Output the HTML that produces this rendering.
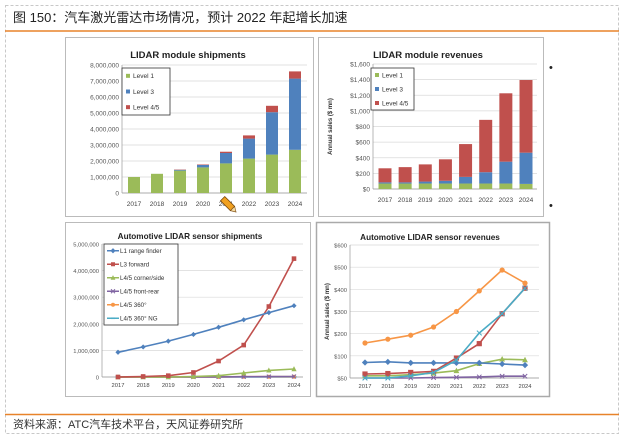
<!DOCTYPE html>
<html><head><meta charset="utf-8"><style>
html,body{margin:0;padding:0;background:#fff;}
svg{display:block;font-family:"Liberation Sans","Noto Sans CJK SC",sans-serif;}
</style></head><body>
<svg id="s" width="620" height="439" viewBox="0 0 620 439" xmlns="http://www.w3.org/2000/svg">
<rect x="5.5" y="5.5" width="613" height="428" fill="#fff" stroke="#c8c8c8" stroke-dasharray="3,2"/>
<text x="13" y="22" font-size="13" fill="#222" font-family="'Liberation Sans','Noto Sans CJK SC',sans-serif">图 150：汽车激光雷达市场情况，预计 2022 年起增长加速</text>
<line x1="5" y1="31" x2="619" y2="31" stroke="#e8832a" stroke-width="1.5"/>
<line x1="5" y1="414.5" x2="619" y2="414.5" stroke="#e8832a" stroke-width="1.5"/>
<text x="13" y="428" font-size="11" fill="#333">资料来源：ATC汽车技术平台，天风证券研究所</text>
<text x="549" y="71" font-size="11" fill="#222">•</text>
<text x="549" y="209" font-size="11" fill="#222">•</text>
<rect x="65.5" y="37.5" width="248" height="179" fill="#fff" stroke="#bbb"/>
<rect x="318.5" y="37.5" width="225" height="179" fill="#fff" stroke="#bbb"/>
<rect x="65.5" y="222.5" width="245" height="174" fill="#fff" stroke="#bbb"/>
<rect x="316.5" y="222.5" width="233" height="174" fill="#fff" stroke="#aaa" stroke-width="1.5"/>
<g id="c1"></g><g id="c2"></g><g id="c3"></g><g id="c4"></g>
<g transform="translate(229,205) rotate(-45)">
<rect x="-3" y="-9" width="6" height="14" fill="#f0a020" stroke="#7a4a10" stroke-width="0.8"/>
<polygon points="-3,5 3,5 0,10" fill="#f5d9a0" stroke="#7a4a10" stroke-width="0.6"/>
</g>
</svg>
<script>
const years = ["2017","2018","2019","2020","2021","2022","2023","2024"];
// Chart 1: module shipments (units)
const shipL1 = [1000000,1200000,1400000,1600000,1850000,2150000,2400000,2700000];
const shipL3 = [0,0,50000,150000,650000,1250000,2650000,4450000];
const shipL45 = [0,0,20000,30000,80000,200000,400000,450000];
const shipTicks = ["0","1,000,000","2,000,000","3,000,000","4,000,000","5,000,000","6,000,000","7,000,000","8,000,000"];
// Chart 2: module revenues ($mn)
const revL1 = [70,70,70,70,70,70,70,65];
const revL3 = [15,15,25,35,85,145,280,400];
const revL45 = [180,195,220,275,420,670,875,930];
const revTicks = ["$0","$200","$400","$600","$800","$1,000","$1,200","$1,400","$1,600"];
// Chart 3: sensor shipments
const sL1 = [930000,1130000,1350000,1600000,1870000,2150000,2420000,2680000];
const sL3 = [0,20000,50000,170000,600000,1200000,2650000,4450000];
const sCorner = [0,0,0,20000,50000,150000,250000,300000];
const sFront = [0,0,0,0,5000,10000,15000,20000];
const s360 = [0,0,0,0,5000,10000,10000,10000];
const s360NG = [0,0,0,0,0,5000,5000,5000];
const sTicks = ["0","1,000,000","2,000,000","3,000,000","4,000,000","5,000,000"];
// Chart 4: sensor revenues
const rL1 = [70,73,68,68,68,68,63,58];
const rL3 = [18,20,25,30,90,155,290,405];
const rCorner = [10,10,15,22,33,65,85,82];
const rFront = [0,0,0,2,3,5,8,8];
const r360 = [158,175,193,230,300,393,487,428];
const rNG = [0,0,10,25,80,203,290,405];
const rTicks = ["$50","$100","$200","$300","$400","$500","$600"];
const rTickVals = [0,100,200,300,400,500,600];

const NS="http://www.w3.org/2000/svg";
const GREEN="#9bbb59",BLUE="#4f81bd",RED="#c0504d",PURPLE="#8064a2",ORANGE="#f79646",TEAL="#4bacc6";
function mk(p,tag,at){const e=document.createElementNS(NS,tag);for(const k in at)e.setAttribute(k,at[k]);p.appendChild(e);return e;}
function txt(p,x,y,s,size,anchor,extra){const t=mk(p,"text",Object.assign({x:x,y:y,"font-size":size,"text-anchor":anchor||"start",fill:"#333"},extra||{}));t.textContent=s;return t;}

function axes(g,o){
  const ys=v=>o.y0-(v-o.vmin)/(o.vmax-o.vmin)*(o.y0-o.y1);
  const xs=i=>o.xa+(i)*(o.xb-o.xa)/(years.length-1);
  o.tickVals.forEach((v,i)=>{
    const gl=mk(g,"line",{x1:o.axL,x2:o.axR,y1:ys(v),y2:ys(v),stroke:"#d9d9d9","stroke-width":0.7});
    
    
    const t=txt(g,o.axL-3,ys(v)+2.5,o.ticks[i],o.tfs||6.5,"end",{fill:"#555"});
    
    
  });
  mk(g,"line",{x1:o.axL,x2:o.axL,y1:o.y0,y2:o.y1,stroke:"#999","stroke-width":0.7});
  mk(g,"line",{x1:o.axL,x2:o.axR,y1:o.y0,y2:o.y0,stroke:"#999","stroke-width":0.8});
  years.forEach((y,i)=>{
    const t=txt(g,xs(i),o.y0+(o.xlo||11),y,o.xfs||6.5,"middle",{fill:"#444"});
    
    
  });
  const tt=txt(g,o.tx,o.ty,o.title,o.titfs||9.5,"middle",{"font-weight":"bold",fill:"#222"});
  
  
  if(o.ytitle){const yt=txt(g,0,0,o.ytitle,6,"middle",{"font-weight":"bold",fill:"#333",transform:`translate(${o.ytx},${(o.y0+o.y1)/2}) rotate(-90)`});
    
    }
  return {ys,xs};
}
function stacked(g,sc,series,colors,names,w){
  years.forEach((y,i)=>{
    let base=0;
    series.forEach((s,k)=>{
      const v=s[i]; if(v<=0)return;
      const r=mk(g,"rect",{x:sc.xs(i)-w/2,y:sc.ys(base+v),width:w,height:sc.ys(base)-sc.ys(base+v),fill:colors[k]});
      
      
      base+=v;
    });
  });
}
function legendBox(g,x,y,w,h,labels,colors,lineStyle,markers){
  const b=mk(g,"rect",{x:x,y:y,width:w,height:h,fill:"#fff",stroke:"#333","stroke-width":0.8});
  
  
  const step=h/labels.length;
  labels.forEach((l,i)=>{
    const cy=y+step*(i+0.5);
    const e=mk(g,"g",{});
    
    
    if(lineStyle){mk(e,"line",{x1:x+3,x2:x+15,y1:cy,y2:cy,stroke:colors[i],"stroke-width":1.5});marker(e,x+9,cy,markers[i],colors[i],2);
      txt(e,x+16,cy+2.3,l,6.2,"start",{fill:"#333"});}
    else{mk(e,"rect",{x:x+4,y:cy-2,width:4,height:4,fill:colors[i]});txt(e,x+11,cy+2.3,l,6.5,"start",{fill:"#333"});}
  });
}
function marker(g,x,y,type,c,s){
  if(type==="d")mk(g,"polygon",{points:`${x},${y-s*1.3} ${x+s*1.3},${y} ${x},${y+s*1.3} ${x-s*1.3},${y}`,fill:c});
  else if(type==="s")mk(g,"rect",{x:x-s,y:y-s,width:2*s,height:2*s,fill:c});
  else if(type==="t")mk(g,"polygon",{points:`${x},${y-s*1.3} ${x+s*1.2},${y+s} ${x-s*1.2},${y+s}`,fill:c});
  else if(type==="x"){mk(g,"path",{d:`M${x-s},${y-s}L${x+s},${y+s}M${x-s},${y+s}L${x+s},${y-s}`,stroke:c,"stroke-width":1});}
  else if(type==="c")mk(g,"circle",{cx:x,cy:y,r:s,fill:c});
  else if(type==="-")mk(g,"rect",{x:x-s,y:y-0.8,width:2*s,height:1.6,fill:c});
}
function lineSeries(g,sc,data,color,type,name,ms){
  const d=data.map((v,i)=>(i?"L":"M")+sc.xs(i).toFixed(1)+","+sc.ys(v).toFixed(1)).join("");
  const p=mk(g,"path",{d:d,fill:"none",stroke:color,"stroke-width":1.6});
  
  
  data.forEach((v,i)=>marker(g,sc.xs(i),sc.ys(v),type,color,ms));
}

// Chart 1
{const g=document.getElementById("c1");
 const sc=axes(g,{vmin:0,vmax:8000000,y0:193,y1:65,xa:134,xb:295,axL:122,axR:307,tickVals:shipTicks.map((_,i)=>i*1000000),ticks:shipTicks,title:"LIDAR module shipments",tx:188,ty:58,xlo:13});
 stacked(g,sc,[shipL1,shipL3,shipL45],[GREEN,BLUE,RED],["level1","level3","level45"],12);
 legendBox(g,122,68,48,47,["Level 1","Level 3","Level 4/5"],[GREEN,BLUE,RED]);}
// Chart 2
{const g=document.getElementById("c2");
 const sc=axes(g,{vmin:0,vmax:1600,y0:189,y1:64,xa:385,xb:526,axL:373,axR:537,tickVals:revTicks.map((_,i)=>i*200),ticks:revTicks,title:"LIDAR module revenues",tx:428,ty:58,ytitle:"Annual sales ($ mn)",ytx:332,xlo:13});
 stacked(g,sc,[revL1,revL3,revL45],[GREEN,BLUE,RED],["level1","level3","level45"],13);
 legendBox(g,371,68,43,42,["Level 1","Level 3","Level 4/5"],[GREEN,BLUE,RED]);}
// Chart 3
{const g=document.getElementById("c3");
 const sc=axes(g,{vmin:0,vmax:5000000,y0:377,y1:244,xa:118,xb:294,axL:102,axR:303,tickVals:sTicks.map((_,i)=>i*1000000),ticks:sTicks,title:"Automotive LIDAR sensor shipments",tx:190,ty:239,titfs:8.2,tfs:5.8,xfs:5.8,xlo:10});
 lineSeries(g,sc,s360NG,TEAL,"-","l45-360-ng",2.5);
 lineSeries(g,sc,s360,ORANGE,"c","l45-360",2);
 lineSeries(g,sc,sFront,PURPLE,"x","l45-front-rear",2);
 lineSeries(g,sc,sCorner,GREEN,"t","l45-corner-side",2.2);
 lineSeries(g,sc,sL3,RED,"s","l3-forward",2.3);
 lineSeries(g,sc,sL1,BLUE,"d","l1-range-finder",2);
 legendBox(g,104,244,74,81,["L1 range finder","L3 forward","L4/5 corner/side","L4/5 front-rear","L4/5 360°","L4/5 360° NG"],[BLUE,RED,GREEN,PURPLE,ORANGE,TEAL],true,["d","s","t","x","c","-"]);}
// Chart 4
{const g=document.getElementById("c4");
 const sc=axes(g,{vmin:0,vmax:600,y0:378,y1:245,xa:365,xb:525,axL:350,axR:539,tickVals:rTickVals,ticks:rTicks,title:"Automotive LIDAR sensor revenues",tx:430,ty:240,titfs:8.2,tfs:5.8,xfs:5.8,xlo:10,ytitle:"Annual sales ($ mn)",ytx:329});
 lineSeries(g,sc,rFront,PURPLE,"x","l45-front-rear",2.2);
 lineSeries(g,sc,rCorner,GREEN,"t","l45-corner-side",2.4);
 lineSeries(g,sc,rL1,BLUE,"d","l1-range-finder",2.4);
 lineSeries(g,sc,rL3,RED,"s","l3-forward",2.6);
 lineSeries(g,sc,rNG,TEAL,"x","l45-360-ng",2.4);
 lineSeries(g,sc,r360,ORANGE,"c","l45-360",2.6);}
</script>
</body></html>
